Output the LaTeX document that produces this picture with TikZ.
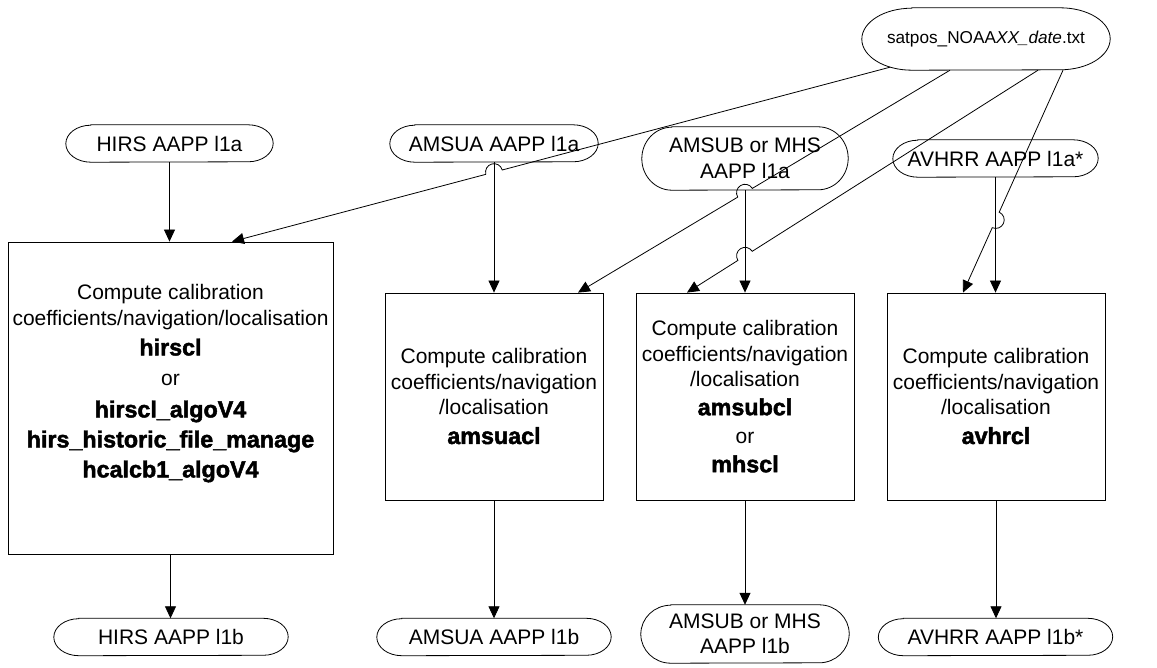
\documentclass[tikz,border=0pt]{standalone}
\usepackage{fontspec}
\setmainfont{Liberation Sans}
\newfontfamily\heavyfont{Liberation Sans}[BoldFeatures={FakeBold=2}]
\usetikzlibrary{arrows.meta,calc}

% program names in the processing boxes
\newcommand\prog[1]{{\heavyfont\bfseries\fontsize{23.3}{30}\selectfont #1}}

% radius of the little jump where a line passes over another
\def\hopr{8.5pt}

% terminator shape: name, x, y, width, height, end radius, text
\newcommand\termnode[7]{%
  \node[txt, minimum width=#4pt, minimum height=#5pt] (#1) at (#2,#3) {#7};
  \draw[termline] ($(#1.north west)+(#6pt,0pt)$) -- ($(#1.north east)-(#6pt,0pt)$)
    arc[start angle=90, end angle=-90, x radius=#6pt, y radius=#5pt/2]
    -- ($(#1.south west)+(#6pt,0pt)$)
    arc[start angle=270, end angle=90, x radius=#6pt, y radius=#5pt/2] -- cycle;
}

% connector from #1 to #2 jumping over the crossing point #3 (#4 = side of the jump)
\newcommand\hopline[4]{%
  \draw[conn] let \p1=($(#2)-(#1)$), \n1={atan2(\y1,\x1)} in
    (#1) -- ($(#3)!\hopr!(#1)$)
    arc[start angle=\n1+180, delta angle=#4, radius=\hopr] -- (#2);
}

\begin{document}
\begin{tikzpicture}[x=1pt, y=-1pt,
  conn/.style={line width=0.8pt, -{Triangle[length=12pt,width=11pt]}},
  proc/.style={draw, line width=0.8pt, minimum width=218pt, inner sep=0pt,
    align=center, font=\fontsize{21}{25.5}\selectfont},
  txt/.style={align=center, inner sep=0pt, font=\fontsize{21}{25.5}\selectfont},
  termline/.style={line width=0.8pt}]
\useasboundingbox (0,0) rectangle (1157,668);

% input files
\termnode{sat}{986}{39}{248}{62}{50}{\fontsize{17.2}{21}\selectfont satpos\_NOAA\textit{XX\_date}.txt}
\termnode{hin}{169.5}{143.5}{207}{37}{25}{HIRS AAPP l1a}
\termnode{ain}{494}{143.5}{208}{37}{25}{AMSUA AAPP l1a}
\termnode{bin}{745}{158.5}{206}{63}{30}{AMSUB or MHS\\AAPP l1a}
\termnode{vin}{995.5}{158.5}{205}{37}{25}{AVHRR AAPP l1a*}

% processing steps
\node[proc, minimum width=325pt, minimum height=312pt] (hbox) at (170.5,398) {};
\node[txt] (htext) at (170.5,383.5) {Compute calibration\\
  coefficients/navigation/localisation\\[4.5pt]
  \prog{hirscl}\\[4.5pt]
  or\\[6.5pt]
  \prog{hirscl\_algoV4}\\[4.5pt]
  \prog{hirs\_historic\_file\_manage}\\[4.5pt]
  \prog{hcalcb1\_algoV4}};
\node[proc, minimum height=207pt] (abox) at (494,396.5) {Compute calibration\\
  coefficients/navigation\\/localisation\\[3.5pt]\prog{amsuacl}};
\node[proc, minimum height=207pt] (bbox) at (745,396.5) {Compute calibration\\
  coefficients/navigation\\/localisation\\[3pt]\prog{amsubcl}\\[3pt]or\\[3pt]\prog{mhscl}};
\node[proc, minimum height=207pt] (vbox) at (996,396.5) {Compute calibration\\
  coefficients/navigation\\/localisation\\[3.5pt]\prog{avhrcl}};

% output files
\termnode{hout}{171}{637}{234}{37}{25}{HIRS AAPP l1b}
\termnode{aout}{494}{637}{234}{37}{25}{AMSUA AAPP l1b}
\termnode{bout}{745}{634}{208}{58}{30}{AMSUB or MHS\\AAPP l1b}
\termnode{vout}{995.5}{637}{234}{37}{25}{AVHRR AAPP l1b*}

% straight flows
\draw[conn] (hin.south) -- (hin.south |- hbox.north);
\draw[conn] (ain.south) -- (ain.south |- abox.north);
\draw[conn] (bin.south) -- (bin.south |- bbox.north);
\draw[conn] (vin.south) -- (vin.south |- vbox.north);
\draw[conn] (hbox.south) -- (hbox.south |- hout.north);
\draw[conn] (abox.south) -- (abox.south |- aout.north);
\draw[conn] (bbox.south) -- (bbox.south |- bout.north);
\draw[conn] (vbox.south) -- (vbox.south |- vout.north);

% satellite position file feeding every step
\coordinate (s1) at ([xshift=-96pt,yshift=3pt]sat.south);
\coordinate (s2) at ([xshift=-36pt]sat.south);
\coordinate (s3) at ([xshift=52pt]sat.south);
\coordinate (s4) at ([xshift=77pt]sat.south);
\coordinate (e1) at ([xshift=61.5pt]hbox.north);
\coordinate (e2) at ([xshift=84pt]abox.north);
\coordinate (e3) at ([xshift=-58pt]bbox.north);
\coordinate (e4) at ([xshift=-33pt]vbox.north);
\coordinate (c1) at (intersection of s1--e1 and ain.south--abox.north);
\coordinate (c2) at (intersection of s2--e2 and bin.south--bbox.north);
\coordinate (c3) at (intersection of s3--e3 and bin.south--bbox.north);
\coordinate (c4) at (intersection of s4--e4 and vin.south--vbox.north);
\hopline{s1}{e1}{c1}{180}
\hopline{s2}{e2}{c2}{180}
\hopline{s3}{e3}{c3}{180}
\hopline{s4}{e4}{c4}{-180}
\end{tikzpicture}
\end{document}
